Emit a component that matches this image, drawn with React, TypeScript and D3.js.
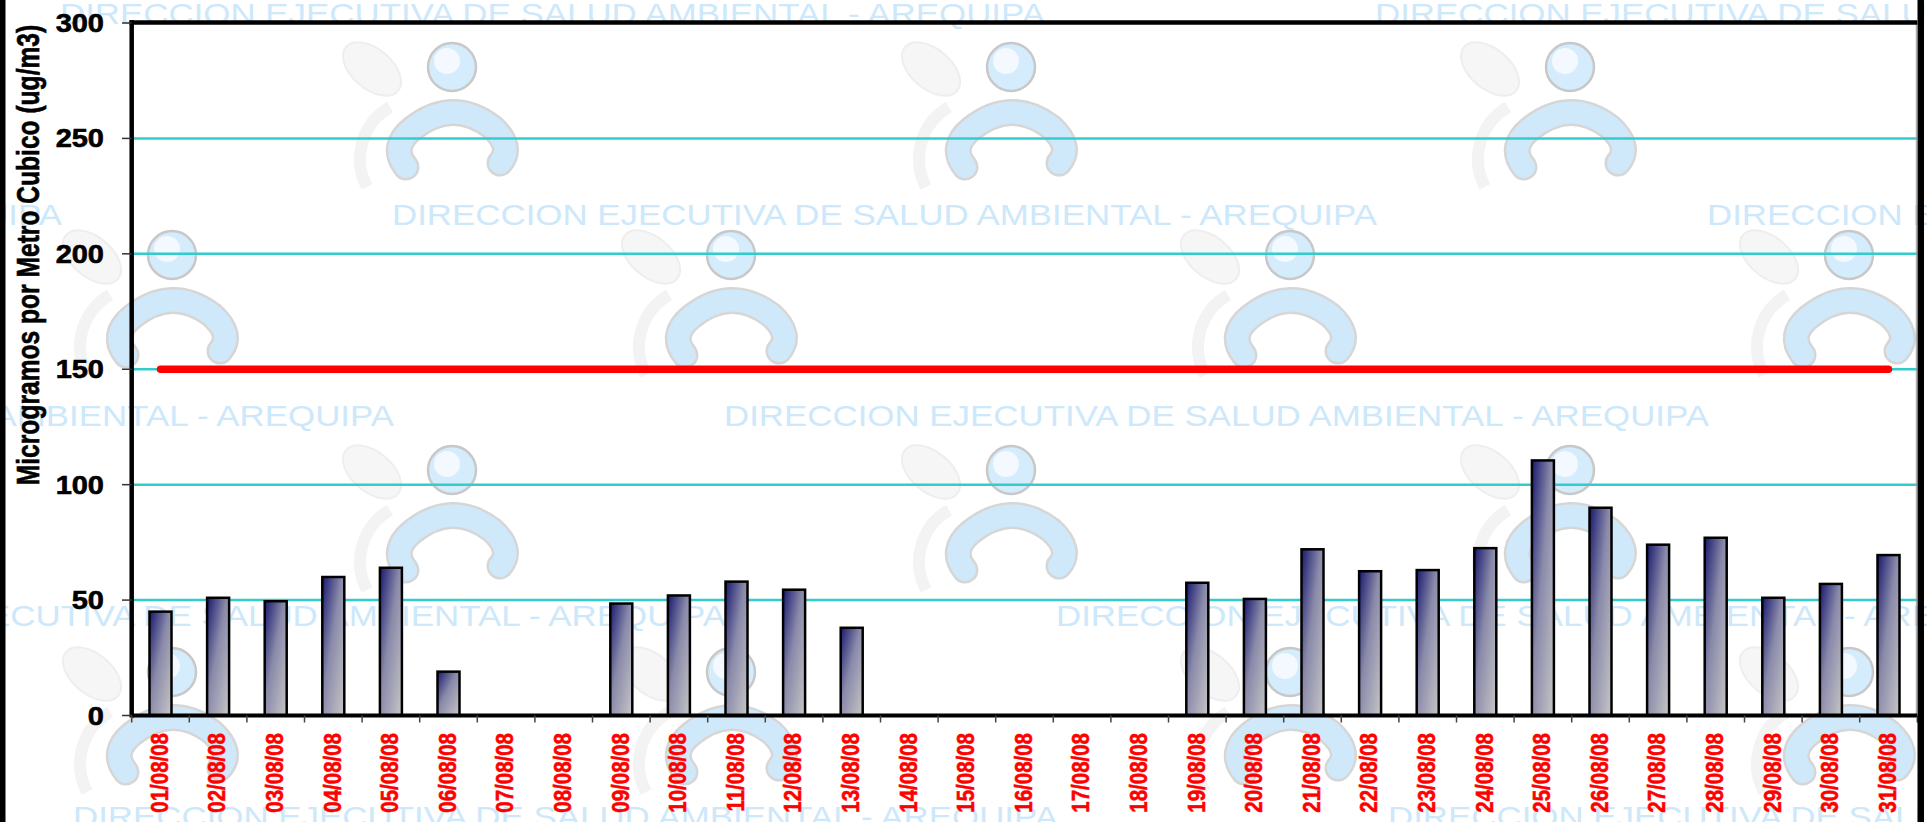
import * as React from 'react';
import { useEffect, useRef } from 'react';
import * as d3 from 'd3';

// PM10 diario, agosto 2008 (ug/m3)
const dates = [
  '01/08/08', '02/08/08', '03/08/08', '04/08/08', '05/08/08', '06/08/08', '07/08/08', '08/08/08',
  '09/08/08', '10/08/08', '11/08/08', '12/08/08', '13/08/08', '14/08/08', '15/08/08', '16/08/08',
  '17/08/08', '18/08/08', '19/08/08', '20/08/08', '21/08/08', '22/08/08', '23/08/08', '24/08/08',
  '25/08/08', '26/08/08', '27/08/08', '28/08/08', '29/08/08', '30/08/08', '31/08/08',
];

const pm10: (number | null)[] = [
  45, 51, 49.5, 60, 64, 19,
  null, null,
  48.5, 52, 58, 54.5, 38,
  null, null, null, null, null,
  57.5, 50.5, 72, 62.5, 63, 72.5, 110.5, 90, 74, 77, 51, 57, 69.5,
];

// Estandar de calidad ambiental (150 ug/m3)
const eca = [
  150, 150, 150, 150, 150, 150, 150, 150, 150, 150, 150, 150, 150, 150, 150, 150,
  150, 150, 150, 150, 150, 150, 150, 150, 150, 150, 150, 150, 150, 150, 150,
];

const yTicks = [0, 50, 100, 150, 200, 250, 300];

const yTitle = 'Microgramos por Metro Cubico (ug/m3)';
const watermarkText = 'DIRECCION EJECUTIVA DE SALUD AMBIENTAL - AREQUIPA';

export default function App() {
  const svgRef = useRef<SVGSVGElement>(null);

  useEffect(() => {
    if (!svgRef.current) return;
    const width = 1927;
    const height = 822;
    const plot = { left: 131.7, right: 1917.3, top: 23, bottom: 715.5 };
    const font = '"Liberation Sans", Arial, sans-serif';
    const stretch = 1.16; // the original chart is stretched horizontally

    const svg = d3.select(svgRef.current);
    svg.selectAll('*').remove();

    svg.append('rect').attr('width', width).attr('height', height).attr('fill', '#fff');

    const defs = svg.append('defs');
    const grad = defs.append('linearGradient')
      .attr('id', 'bar-grad')
      .attr('x1', 0).attr('y1', 0).attr('x2', 1).attr('y2', 1);
    grad.append('stop').attr('offset', '0%').attr('stop-color', '#181870');
    grad.append('stop').attr('offset', '45%').attr('stop-color', '#8a8aaa');
    grad.append('stop').attr('offset', '100%').attr('stop-color', '#c6c6c6');

    // background watermark: logos + text tiles
    const wm = svg.append('g');
    const logoRows = [
      { y: 67, x0: 452 },
      { y: 255, x0: 172 },
      { y: 470, x0: 452 },
      { y: 672, x0: 172 },
    ];
    logoRows.forEach(row => {
      for (let hx = row.x0; hx < width + 100; hx += 559) {
        const g = wm.append('g').attr('transform', `translate(${hx},${row.y})`);
        g.append('ellipse')
          .attr('cx', -80).attr('cy', 2).attr('rx', 34).attr('ry', 20)
          .attr('transform', 'rotate(40,-80,2)')
          .attr('fill', '#f6f6f6').attr('stroke', '#eeeeee').attr('stroke-width', 2);
        g.append('path')
          .attr('d', 'M -85 120 A 60 60 0 0 1 -62 40')
          .attr('fill', 'none').attr('stroke', '#f3f3f3').attr('stroke-width', 12);
        g.append('path')
          .attr('d', 'M -46 100 Q -62 80 -40 62 Q 0 30 40 60 Q 62 80 48 96')
          .attr('fill', 'none').attr('stroke', '#d6d6d6').attr('stroke-width', 27)
          .attr('stroke-linecap', 'round');
        g.append('path')
          .attr('d', 'M -46 100 Q -62 80 -40 62 Q 0 30 40 60 Q 62 80 48 96')
          .attr('fill', 'none').attr('stroke', '#d0e9fa').attr('stroke-width', 22)
          .attr('stroke-linecap', 'round');
        g.append('circle').attr('r', 24).attr('fill', '#d4ecfb')
          .attr('stroke', '#c8c8c8').attr('stroke-width', 2.5);
        g.append('circle').attr('cx', -5).attr('cy', -6).attr('r', 13).attr('fill', '#f3f9fe');
      }
    });
    for (let r = 0; r < 5; r++) {
      const baseline = 24 + r * 200.8;
      const x0 = (60 + r * 332) % 1315;
      for (let tx = x0 - 1315; tx < width; tx += 1315) {
        wm.append('text')
          .attr('x', tx).attr('y', baseline)
          .attr('font-family', font).attr('font-size', 30)
          .attr('textLength', 985).attr('lengthAdjust', 'spacingAndGlyphs')
          .attr('fill', '#cce8fa')
          .text(watermarkText);
      }
    }

    const x = d3.scaleBand<string>().domain(dates).range([plot.left, plot.right]);
    const y = d3.scaleLinear().domain([0, 300]).range([plot.bottom, plot.top]);
    const cx = (d: string) => (x(d) as number) + x.bandwidth() / 2;

    // gridlines
    svg.append('g').selectAll('line')
      .data(yTicks.filter(t => t > 0 && t < 300))
      .enter().append('line')
      .attr('x1', plot.left).attr('x2', plot.right)
      .attr('y1', d => y(d)).attr('y2', d => y(d))
      .attr('stroke', '#33cccc').attr('stroke-width', 2.5);

    // bars
    const barW = 22;
    const barData = dates.map((d, i) => ({ d, v: pm10[i] })).filter(b => b.v !== null) as { d: string; v: number }[];
    svg.append('g').selectAll('rect')
      .data(barData)
      .enter().append('rect')
      .attr('x', b => cx(b.d) - barW / 2)
      .attr('y', b => y(b.v))
      .attr('width', barW)
      .attr('height', b => y(0) - y(b.v))
      .attr('fill', 'url(#bar-grad)')
      .attr('stroke', '#000').attr('stroke-width', 2.5);

    // limit line
    const line = d3.line<number>()
      .x((_, i) => cx(dates[i]))
      .y(v => y(v));
    svg.append('path')
      .datum(eca)
      .attr('d', line)
      .attr('fill', 'none')
      .attr('stroke', '#ff0000').attr('stroke-width', 7.5)
      .attr('stroke-linecap', 'round');

    // plot frame
    svg.append('line')
      .attr('x1', plot.right - 1).attr('x2', plot.right - 1)
      .attr('y1', plot.top).attr('y2', plot.bottom)
      .attr('stroke', '#999').attr('stroke-width', 1);
    svg.append('line')
      .attr('x1', plot.left - 2.2).attr('x2', plot.right)
      .attr('y1', plot.top - 0.5).attr('y2', plot.top - 0.5)
      .attr('stroke', '#000').attr('stroke-width', 4.5);
    svg.append('line')
      .attr('x1', plot.left).attr('x2', plot.left)
      .attr('y1', plot.top - 2.7).attr('y2', plot.bottom + 2)
      .attr('stroke', '#000').attr('stroke-width', 4.5);
    svg.append('line')
      .attr('x1', plot.left).attr('x2', plot.right)
      .attr('y1', plot.bottom).attr('y2', plot.bottom)
      .attr('stroke', '#000').attr('stroke-width', 4);

    // y axis ticks + labels
    const yAxis = svg.append('g');
    yAxis.selectAll('line')
      .data(yTicks)
      .enter().append('line')
      .attr('x1', 122).attr('x2', plot.left)
      .attr('y1', d => y(d)).attr('y2', d => y(d))
      .attr('stroke', '#333').attr('stroke-width', 1.5);
    yAxis.selectAll('text')
      .data(yTicks)
      .enter().append('text')
      .attr('transform', d => `translate(104,${y(d)}) scale(${stretch},1)`)
      .attr('dy', '0.36em')
      .attr('text-anchor', 'end')
      .attr('font-family', font).attr('font-weight', 'bold').attr('font-size', 25)
      .attr('fill', '#000').attr('stroke', '#000').attr('stroke-width', 0.6)
      .text(d => d);

    // x axis ticks + labels
    const xAxis = svg.append('g');
    const bounds = dates.map(d => x(d) as number).concat([plot.right]);
    xAxis.selectAll('line')
      .data(bounds)
      .enter().append('line')
      .attr('x1', d => d).attr('x2', d => d)
      .attr('y1', plot.bottom).attr('y2', plot.bottom + 7)
      .attr('stroke', '#444').attr('stroke-width', 1.5);
    xAxis.selectAll('text')
      .data(dates)
      .enter().append('text')
      .attr('transform', d => `translate(${cx(d) - 1.5},733) scale(${stretch + 0.04},1) rotate(-90)`)
      .attr('dy', '0.36em')
      .attr('text-anchor', 'end')
      .attr('font-family', font).attr('font-weight', 'bold').attr('font-size', 20.5)
      .attr('fill', '#ff0000').attr('stroke', '#ff0000').attr('stroke-width', 0.5)
      .text(d => d);

    // y title
    svg.append('text')
      .attr('transform', `translate(27,255) scale(1.31,1) rotate(-90)`)
      .attr('dy', '0.36em')
      .attr('text-anchor', 'middle')
      .attr('font-family', font).attr('font-weight', 'bold').attr('font-size', 24.6)
      .attr('fill', '#000').attr('stroke', '#000').attr('stroke-width', 0.5)
      .text(yTitle);

    // slide frame edges
    svg.append('rect').attr('x', 0).attr('y', 0).attr('width', 5.5).attr('height', height).attr('fill', '#000');
    svg.append('rect').attr('x', 1917.5).attr('y', 0).attr('width', 6.5).attr('height', height).attr('fill', '#000');
  }, []);

  return (
    <div style={{ position: 'absolute', left: 0, top: 0 }}>
      <svg ref={svgRef} width={1927} height={822} style={{ display: 'block' }}></svg>
    </div>
  );
}
